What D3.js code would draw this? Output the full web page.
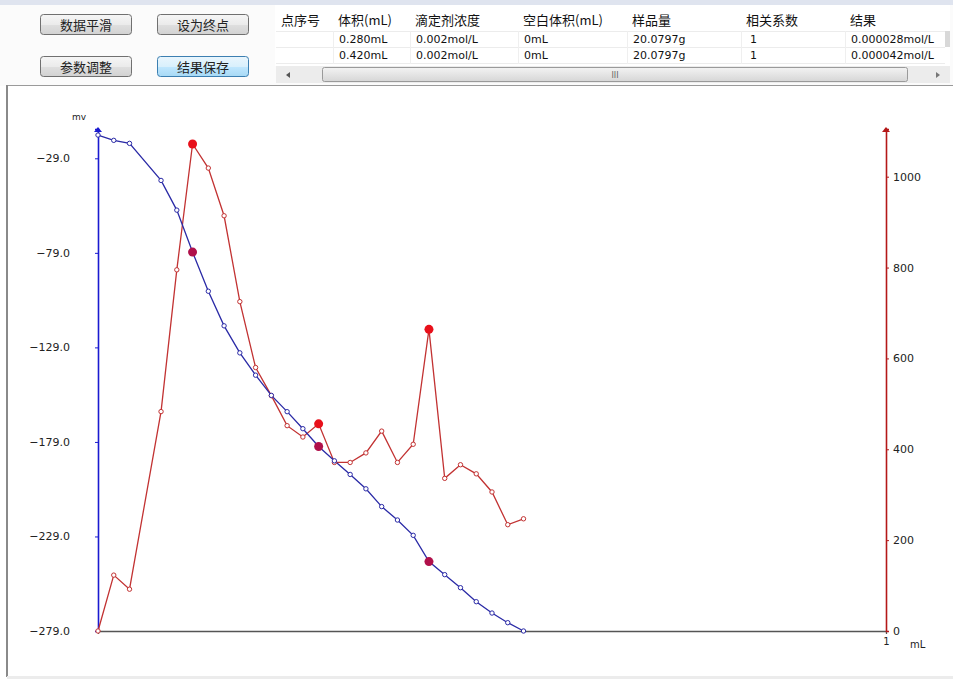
<!DOCTYPE html>
<html>
<head>
<meta charset="utf-8">
<script src="https://cdn.jsdelivr.net/npm/d3@7"></script>
<style>
  html, body { margin: 0; padding: 0; background: #ffffff; }
  svg { display: block; }
  .cjk { font-family: "Noto Sans CJK SC", "Noto Sans", sans-serif; }
  .num { font-family: "DejaVu Sans", "Liberation Sans", sans-serif; }
</style>
</head>
<body>
<svg id="chart" width="953" height="679"></svg>
<script>
// Titration volumes (mL) and readings
const volumes = [0, 0.02, 0.04, 0.08, 0.10, 0.12, 0.14, 0.16, 0.18, 0.20,
                 0.22, 0.24, 0.26, 0.28, 0.30, 0.32, 0.34, 0.36, 0.38, 0.40,
                 0.42, 0.44, 0.46, 0.48, 0.50, 0.52, 0.54];
// Electrode potential (mV)
const potential = [-16.7, -19.5, -21.1, -40.7, -56.4, -78.6, -99.3, -117.6, -131.9, -143.7,
                   -154.4, -163.0, -172.0, -181.4, -189.0, -196.2, -203.8, -213.2, -220.3, -228.4,
                   -242.3, -249.2, -256.1, -263.5, -269.5, -274.6, -279.0];
// First derivative dE/dV
const derivative = [0, 123, 92, 483, 795, 1072, 1019, 914, 725, 580,
                    518, 452, 427, 456, 371, 371, 392, 440, 371, 411,
                    664, 336, 366, 346, 306, 234, 247];
// Detected peaks / endpoints (mL)
const peakVolumes = [0.12, 0.28, 0.42];

const leftTicks = [-279, -229, -179, -129, -79, -29];
const rightTicks = [0, 200, 400, 600, 800, 1000];

// Toolbar buttons and result table
const buttons = [
  { label: "数据平滑", x: 40, y: 14, active: false },
  { label: "设为终点", x: 157, y: 14, active: false },
  { label: "参数调整", x: 40, y: 56, active: false },
  { label: "结果保存", x: 157, y: 56, active: true }
];
const columns = ["点序号", "体积(mL)", "滴定剂浓度", "空白体积(mL)", "样品量", "相关系数", "结果"];
const columnX = [276, 333, 410, 518, 627, 741, 845, 945];
const rows = [
  ["", "0.280mL", "0.002mol/L", "0mL", "20.0797g", "1", "0.000028mol/L"],
  ["", "0.420mL", "0.002mol/L", "0mL", "20.0797g", "1", "0.000042mol/L"]
];

const svg = d3.select("#chart");

// ---------- toolbar ----------
const defs = svg.append("defs");
const g1 = defs.append("linearGradient").attr("id", "btn").attr("x1", 0).attr("y1", 0).attr("x2", 0).attr("y2", 1);
g1.append("stop").attr("offset", "0%").attr("stop-color", "#f6f6f6");
g1.append("stop").attr("offset", "50%").attr("stop-color", "#ebebeb");
g1.append("stop").attr("offset", "55%").attr("stop-color", "#dedede");
g1.append("stop").attr("offset", "100%").attr("stop-color", "#d2d2d2");
const g2 = defs.append("linearGradient").attr("id", "btnOn").attr("x1", 0).attr("y1", 0).attr("x2", 0).attr("y2", 1);
g2.append("stop").attr("offset", "0%").attr("stop-color", "#eaf6fd");
g2.append("stop").attr("offset", "50%").attr("stop-color", "#d9f0fc");
g2.append("stop").attr("offset", "55%").attr("stop-color", "#bee6fd");
g2.append("stop").attr("offset", "100%").attr("stop-color", "#a7d9f5");
const g3 = defs.append("linearGradient").attr("id", "thumb").attr("x1", 0).attr("y1", 0).attr("x2", 0).attr("y2", 1);
g3.append("stop").attr("offset", "0%").attr("stop-color", "#f3f3f3");
g3.append("stop").attr("offset", "100%").attr("stop-color", "#d6d6d6");

svg.append("rect").attr("x", 0).attr("y", 0).attr("width", 953).attr("height", 86).attr("fill", "#fbfbfb");
svg.append("rect").attr("x", 0).attr("y", 0).attr("width", 953).attr("height", 5).attr("fill", "#dfe4ef");

const btn = svg.selectAll("g.btn").data(buttons).join("g").attr("class", "btn")
  .attr("transform", d => `translate(${d.x},${d.y})`);
btn.append("rect").attr("x", 0.5).attr("y", 0.5).attr("width", 91).attr("height", 20).attr("rx", 3)
  .attr("fill", d => d.active ? "url(#btnOn)" : "url(#btn)")
  .attr("stroke", d => d.active ? "#3c7fb1" : "#707070");
btn.append("text").attr("class", "cjk").attr("x", 46).attr("y", 15.5).attr("text-anchor", "middle")
  .attr("font-size", 13).attr("fill", "#222").text(d => d.label);

// table
const table = svg.append("g");
table.append("rect").attr("x", 275).attr("y", 5).attr("width", 675).attr("height", 61).attr("fill", "#ffffff");
table.selectAll("text.h").data(columns).join("text").attr("class", "h cjk")
  .attr("x", (d, i) => columnX[i] + 5).attr("y", 25).attr("font-size", 13).attr("fill", "#111").text(d => d);
table.selectAll("line.row").data([31, 47, 63]).join("line").attr("class", "row")
  .attr("x1", 276).attr("x2", 945).attr("y1", d => d + 0.5).attr("y2", d => d + 0.5).attr("stroke", "#ececec");
table.selectAll("line.col").data(columnX.slice(1, 7)).join("line").attr("class", "col")
  .attr("x1", d => d + 0.5).attr("x2", d => d + 0.5).attr("y1", 31).attr("y2", 64).attr("stroke", "#efefef");
table.append("rect").attr("x", 945).attr("y", 31).attr("width", 5).attr("height", 16).attr("fill", "#d8d8d8");
rows.forEach((r, ri) => {
  table.selectAll(null).data(r).join("text").attr("class", "num")
    .attr("x", (d, i) => columnX[i] + (i === 5 ? 9 : 6)).attr("y", 43 + ri * 16)
    .attr("font-size", 11).attr("fill", "#111").text(d => d);
});
// horizontal scrollbar
table.append("rect").attr("x", 276).attr("y", 66).attr("width", 674).attr("height", 17).attr("fill", "#ececec");
table.append("rect").attr("x", 322.5).attr("y", 67.5).attr("width", 585).attr("height", 14).attr("rx", 2)
  .attr("fill", "url(#thumb)").attr("stroke", "#9a9a9a");
table.append("text").attr("x", 615).attr("y", 78).attr("text-anchor", "middle").attr("font-size", 8)
  .attr("fill", "#666").attr("class", "num").text("III");
table.append("path").attr("d", "M286,75 l4,-3 v6 z").attr("fill", "#555");
table.append("path").attr("d", "M940,75 l-4,-3 v6 z").attr("fill", "#777");

// ---------- chart panel ----------
svg.append("rect").attr("x", 7).attr("y", 85).attr("width", 946).attr("height", 591).attr("fill", "#ffffff");
svg.append("line").attr("x1", 7).attr("x2", 953).attr("y1", 85.5).attr("y2", 85.5).attr("stroke", "#9a9a9a");
svg.append("rect").attr("x", 6).attr("y", 85).attr("width", 2).attr("height", 592).attr("fill", "#8a8a8a");
svg.append("rect").attr("x", 7).attr("y", 676).attr("width", 946).attr("height", 3).attr("fill", "#ececec");

const x = d3.scaleLinear().domain([0, 1]).range([98, 886]);
const yL = d3.scaleLinear().domain([-279, -13.5]).range([631, 129]);
const yR = d3.scaleLinear().domain([0, 1105]).range([631, 129]);

const blue = "#2a2aa6", red = "#c23232";

// x axis
const xAxis = svg.append("g").attr("transform", "translate(0,631)")
  .call(d3.axisBottom(x).tickValues([1]).tickSize(3).tickFormat(d3.format("d")));
xAxis.select(".domain").attr("stroke", "#555").attr("stroke-width", 1.3);
xAxis.selectAll(".tick line").attr("stroke", "#555");
xAxis.selectAll("text").attr("class", "num").attr("font-size", 10).attr("fill", "#222").attr("dy", "0.75em");
svg.append("text").attr("class", "num").attr("x", 910).attr("y", 648).attr("font-size", 10).attr("fill", "#222").text("mL");

// left axis (potential)
const leftAxis = svg.append("g").attr("transform", "translate(98,0)")
  .call(d3.axisLeft(yL).tickValues(leftTicks).tickSize(3).tickPadding(25).tickFormat(d3.format(".1f")));
leftAxis.select(".domain").attr("stroke", "#1a1ad0").attr("stroke-width", 1.6);
leftAxis.selectAll(".tick line").attr("stroke", "#1a1ad0");
leftAxis.selectAll("text").attr("class", "num").attr("font-size", 11).attr("fill", "#222");
svg.append("path").attr("d", `M98,${yL.range()[1] - 2} l-4,5 h8 z`).attr("fill", "#1a1ad0");
svg.append("text").attr("class", "num").attr("x", 72).attr("y", 120).attr("font-size", 9).attr("fill", "#222").text("mv");

// right axis (derivative)
const rightAxis = svg.append("g").attr("transform", "translate(886,0)")
  .call(d3.axisRight(yR).tickValues(rightTicks).tickSize(3).tickPadding(4).tickFormat(d3.format("d")));
rightAxis.select(".domain").attr("stroke", "#b41818").attr("stroke-width", 1.6);
rightAxis.selectAll(".tick line").attr("stroke", "#b41818");
rightAxis.selectAll("text").attr("class", "num").attr("font-size", 11).attr("fill", "#222");
svg.append("path").attr("d", `M886,${yR.range()[1] - 2} l-4,5 h8 z`).attr("fill", "#b41818");

// curves
const pts = volumes.map((v, i) => ({ v, e: potential[i], d: derivative[i] }));
const lineE = d3.line().x(d => x(d.v)).y(d => yL(d.e));
const lineD = d3.line().x(d => x(d.v)).y(d => yR(d.d));

svg.append("path").datum(pts).attr("d", lineD).attr("fill", "none").attr("stroke", red).attr("stroke-width", 1.3);
svg.append("path").datum(pts).attr("d", lineE).attr("fill", "none").attr("stroke", blue).attr("stroke-width", 1.3);

svg.selectAll("circle.d").data(pts).join("circle").attr("class", "d")
  .attr("cx", d => x(d.v)).attr("cy", d => yR(d.d)).attr("r", 2.2)
  .attr("fill", "#fff").attr("stroke", red).attr("stroke-width", 1);
svg.selectAll("circle.e").data(pts).join("circle").attr("class", "e")
  .attr("cx", d => x(d.v)).attr("cy", d => yL(d.e)).attr("r", 2.2)
  .attr("fill", "#fff").attr("stroke", blue).attr("stroke-width", 1);

// peak markers on both curves
const peaks = pts.filter(p => peakVolumes.some(v => Math.abs(v - p.v) < 1e-9));
svg.selectAll("circle.pd").data(peaks).join("circle").attr("class", "pd")
  .attr("cx", d => x(d.v)).attr("cy", d => yR(d.d)).attr("r", 4.5).attr("fill", "#e8101a");
svg.selectAll("circle.pe").data(peaks).join("circle").attr("class", "pe")
  .attr("cx", d => x(d.v)).attr("cy", d => yL(d.e)).attr("r", 4.5).attr("fill", "#b0104a");
</script>
</body>
</html>
